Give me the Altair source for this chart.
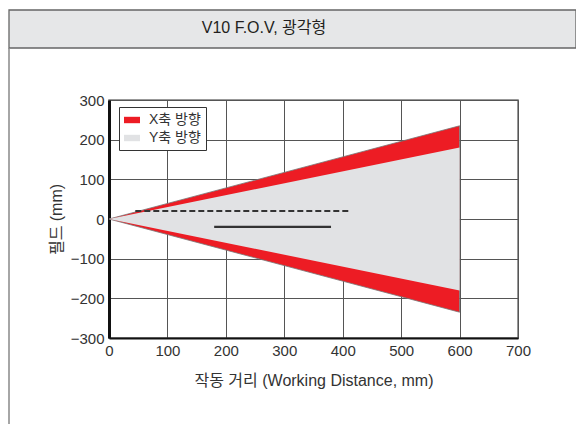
import altair as alt
import pandas as pd

# ---- data ----
distance = [0, 600]
x_half_width = [0, 235]      # X축 방향 (red)
y_half_width = [0, 180]      # Y축 방향 (grey)
series_names = ["X축 방향", "Y축 방향"]
series_colors = ["#ed1c24", "#e1e2e4"]
dashed_x = [45, 410]
dashed_y = [20, 20]
solid_x = [180, 380]
solid_y = [-20, -20]
x_ticks = [0, 100, 200, 300, 400, 500, 600, 700]
y_ticks = [-300, -200, -100, 0, 100, 200, 300]
title_text = "V10 F.O.V, 광각형"
x_title = "작동 거리 (Working Distance, mm)"
y_title = "필드 (mm)"

FONT = "Liberation Sans, Noto Sans CJK KR, sans-serif"

red_df = pd.DataFrame({"d": distance, "hi": x_half_width,
                       "lo": [-v for v in x_half_width], "series": series_names[0]})
grey_df = pd.DataFrame({"d": distance, "hi": y_half_width,
                        "lo": [-v for v in y_half_width], "series": series_names[1]})
dash_df = pd.DataFrame({"d": dashed_x, "hi": dashed_y})
solid_df = pd.DataFrame({"d": solid_x, "hi": solid_y})
one = pd.DataFrame({"k": [0]})

xscale = alt.Scale(domain=[0, 700], nice=False)
yscale = alt.Scale(domain=[-300, 300], nice=False)
color = alt.Color("series:N", scale=alt.Scale(domain=series_names, range=series_colors),
                  legend=alt.Legend(title=None))

xaxis = alt.Axis(values=x_ticks, title=x_title, grid=True, ticks=False,
                 labelPadding=5, titlePadding=14, labelFlush=False, labelOverlap=False)
yaxis = alt.Axis(values=y_ticks, title=y_title, grid=True, ticks=False,
                 labelPadding=5, titlePadding=6, labelFlush=False, labelOverlap=False)

X = alt.X("d:Q", scale=xscale, axis=xaxis)
Y = alt.Y("hi:Q", scale=yscale, axis=yaxis, stack=None)

red = alt.Chart(red_df).mark_area(stroke="#777", strokeWidth=0.8).encode(
    x=X, y=Y, y2="lo:Q", color=color)
grey = alt.Chart(grey_df).mark_area().encode(
    x=X, y=Y, y2="lo:Q", color=color)
dashed = alt.Chart(dash_df).mark_line(color="#333", strokeWidth=2, strokeDash=[6, 3]).encode(
    x=X, y=Y)
solid = alt.Chart(solid_df).mark_line(color="#333", strokeWidth=2.2).encode(
    x=X, y=Y)

header = alt.Chart(one).mark_rect(fill="#e6e7e8", stroke="#666", strokeWidth=1.3).encode(
    x=alt.value(-100), x2=alt.value(467), y=alt.value(-90), y2=alt.value(-52))
left_border = alt.Chart(one).mark_rule(color="#888", strokeWidth=1.5).encode(
    x=alt.value(-100), y=alt.value(-52), y2=alt.value(324))
header_text = alt.Chart(one).mark_text(font=FONT, fontSize=16, color="#231f20",
                                       baseline="middle", align="center").encode(
    x=alt.value(155), y=alt.value(-72), text=alt.value(title_text))

chart = alt.layer(header, left_border, header_text, red, grey, dashed, solid).properties(
    width=409, height=238,
    autosize=alt.AutoSizeParams(type="none"),
    padding={"left": 101, "top": 92, "right": 58, "bottom": 86},
    background="white",
).configure_view(
    stroke="#777", strokeWidth=1.5
).configure_axis(
    gridColor="#555", gridWidth=1, gridOpacity=1,
    labelFont=FONT, labelFontSize=15, labelColor="#333",
    labelOverlap=False, labelFlush=False,
    titleFont=FONT, titleFontSize=16, titleColor="#333", titleFontWeight="normal",
    domainColor="#111",
).configure_axisY(
    domainWidth=3,
).configure_axisX(
    domainWidth=2,
).configure_legend(
    orient="none", legendX=10, legendY=7,
    strokeColor="#333", strokeWidth=1, fillColor="white", padding=5,
    symbolType="M-1,-0.4H1V0.4H-1Z", symbolSize=256, symbolStrokeWidth=0,
    labelFont=FONT, labelFontSize=14, labelColor="#333", rowPadding=3, labelOffset=9,
)

chart.save("out.html", embed_options={"renderer": "svg", "actions": False})
